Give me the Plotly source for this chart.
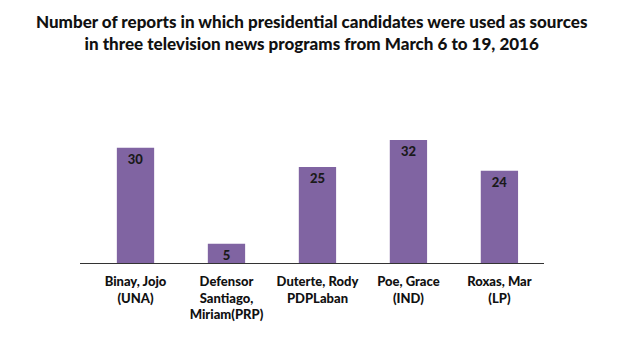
import plotly.graph_objects as go

categories = ["Binay, Jojo<br>(UNA)", "Defensor<br>Santiago,<br>Miriam(PRP)",
              "Duterte, Rody<br>PDPLaban", "Poe, Grace<br>(IND)", "Roxas, Mar<br>(LP)"]
values = [30, 5, 25, 32, 24]
title_text = ("Number of reports in which presidential candidates were used as sources<br>"
              "in three television news programs from March 6 to 19, 2016")

fig = go.Figure(go.Bar(
    x=list(range(len(categories))), y=values,
    text=[str(v) for v in values], textposition="inside", insidetextanchor="end",
    textangle=0, constraintext="none",
    textfont=dict(family="Lato", size=13, color="#1a1a1a", weight=900),
    marker=dict(color="#8064A2", line=dict(width=0)),
    width=0.41,
))

fig.add_annotation(text=title_text, xref="paper", yref="paper", x=0.5, y=(263 - 9) / 163,
                   xanchor="center", yanchor="top", showarrow=False, align="center",
                   font=dict(family="Lato", size=17, color="#111111", weight=900))

fig.update_layout(
    width=640, height=337, paper_bgcolor="white", plot_bgcolor="white",
    margin=dict(l=80, r=96, t=100, b=74),
    showlegend=False,
    font=dict(family="Lato"),
    xaxis=dict(range=[-0.61, 4.49], tickmode="array", tickvals=list(range(len(categories))),
               ticktext=categories, showgrid=False, zeroline=False, showline=True,
               linecolor="#333333", linewidth=1, ticks="", ticklabelstandoff=6,
               tickfont=dict(family="Lato", size=13, color="#111111", weight=900)),
    yaxis=dict(range=[0, 42.4], visible=False, showgrid=False, zeroline=False),
)

fig.write_html("out.html")
